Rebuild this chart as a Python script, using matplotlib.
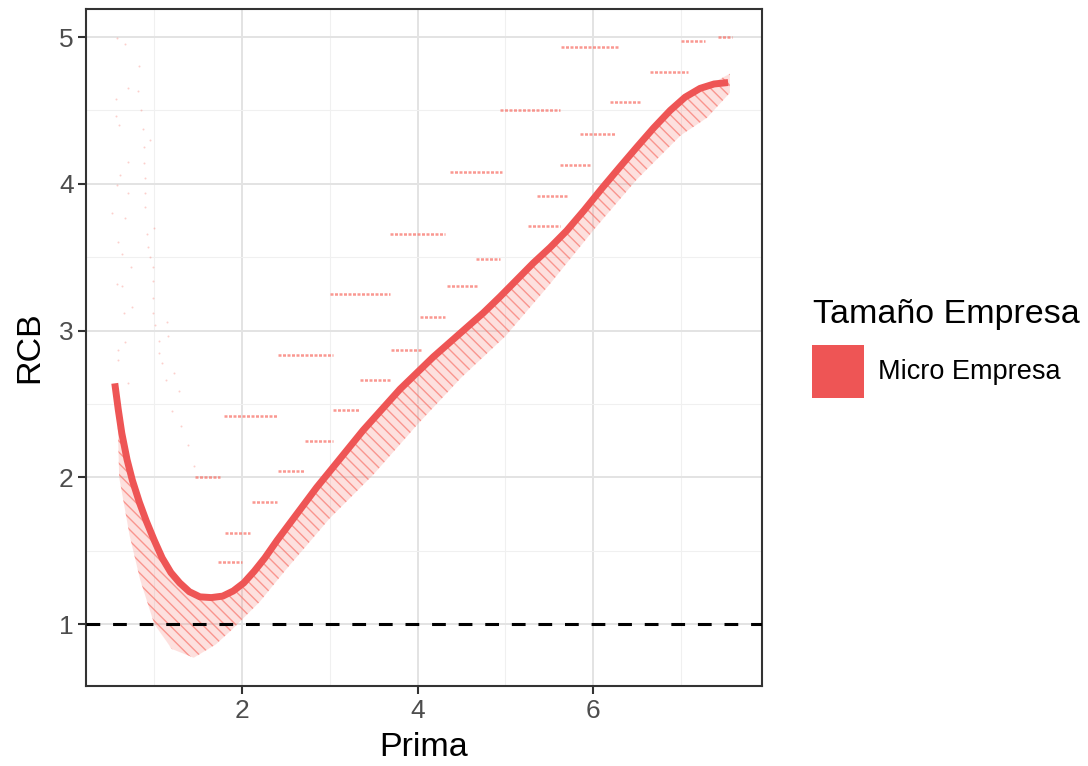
import matplotlib
matplotlib.use("Agg")
import matplotlib.pyplot as plt
from matplotlib.patches import Rectangle, Polygon

plt.rcParams['font.family'] = ['Liberation Sans', 'DejaVu Sans']

# ---- data ----
# loess-like smooth curve (Prima, RCB)
smooth_prima = [0.55, 0.59, 0.63, 0.69, 0.75, 0.83, 0.91, 1.00, 1.09, 1.19, 1.29, 1.40, 1.52,
                1.65, 1.78, 1.90, 2.02, 2.14, 2.26, 2.40, 2.55, 2.70, 2.85, 3.00, 3.19, 3.38,
                3.59, 3.80, 3.99, 4.18, 4.37, 4.56, 4.75, 4.94, 5.13, 5.32, 5.51, 5.70, 5.90,
                6.11, 6.30, 6.50, 6.69, 6.88, 7.05, 7.22, 7.38, 7.54]
smooth_rcb = [2.64, 2.46, 2.30, 2.12, 1.98, 1.83, 1.70, 1.57, 1.45, 1.35, 1.28, 1.22, 1.185,
              1.18, 1.19, 1.225, 1.28, 1.36, 1.45, 1.57, 1.69, 1.81, 1.93, 2.04, 2.18, 2.32,
              2.46, 2.60, 2.71, 2.82, 2.92, 3.02, 3.12, 3.23, 3.345, 3.46, 3.565, 3.68, 3.82,
              3.975, 4.11, 4.25, 4.38, 4.50, 4.59, 4.65, 4.68, 4.69]

# dense point cloud under the curve: outline (upper edge then lower edge)
cloud_upper_prima = [0.58, 0.63, 0.75, 0.91, 1.09, 1.29, 1.52, 1.78, 2.00, 2.30, 2.66, 3.00, 3.38,
                     3.80, 4.18, 4.56, 4.94, 5.32, 5.70, 6.11, 6.50, 6.88, 7.22, 7.56]
cloud_upper_rcb = [2.45, 2.26, 1.94, 1.67, 1.42, 1.26, 1.17, 1.18, 1.26, 1.47, 1.76, 2.02, 2.30,
                   2.58, 2.80, 3.00, 3.21, 3.44, 3.66, 3.96, 4.23, 4.48, 4.64, 4.75]
cloud_lower_prima = [7.56, 7.30, 7.00, 6.50, 6.00, 5.50, 5.00, 4.50, 4.00, 3.50, 3.00, 2.50,
                     2.20, 1.90, 1.70, 1.45, 1.20, 1.00, 0.84, 0.72, 0.60]
cloud_lower_rcb = [4.62, 4.45, 4.33, 4.03, 3.68, 3.31, 2.96, 2.68, 2.36, 2.02, 1.72, 1.37,
                   1.15, 0.97, 0.86, 0.77, 0.83, 1.00, 1.30, 1.60, 2.00]

# horizontal runs of points above the curve
run_start = [7.00, 7.42, 5.64, 6.65, 6.19, 5.85, 4.94, 5.62, 4.37, 5.36, 5.26, 3.69, 4.67, 3.00,
             4.34, 4.03, 2.41, 3.70, 3.34, 3.04, 1.79, 2.72, 2.41, 1.46, 2.11, 1.81, 1.73]
run_end = [7.28, 7.58, 6.28, 7.08, 6.54, 6.25, 5.62, 5.97, 4.96, 5.71, 5.62, 4.31, 4.94, 3.69,
           4.68, 4.31, 3.04, 4.04, 3.69, 3.34, 2.41, 3.04, 2.72, 1.75, 2.40, 2.09, 2.00]
run_rcb = [4.97, 5.00, 4.93, 4.76, 4.56, 4.34, 4.50, 4.13, 4.08, 3.92, 3.71, 3.66, 3.49, 3.25,
           3.30, 3.09, 2.83, 2.87, 2.66, 2.46, 2.42, 2.25, 2.04, 2.00, 1.83, 1.62, 1.42]

# faint scattered points on the left
faint_prima = [0.58, 0.67, 0.70, 0.81, 0.56, 0.56, 0.60, 0.87, 0.88, 0.70, 0.88, 0.61, 0.58, 0.90,
               0.70, 0.90, 0.90, 0.67, 0.52, 0.92, 0.59, 0.63, 0.93, 0.95, 0.73, 0.98, 0.58, 0.63,
               0.98, 0.99, 0.75, 0.65, 0.99, 1.15, 1.01, 0.67, 0.59, 1.05, 1.16, 1.05, 0.59, 0.70,
               1.09, 1.23, 1.13, 1.28, 1.20, 1.30, 1.38, 1.45, 0.83, 0.85, 0.95, 1.00]
faint_rcb = [4.99, 4.95, 4.65, 4.63, 4.58, 4.46, 4.40, 4.37, 4.25, 4.15, 4.14, 4.06, 3.99, 4.04,
             3.94, 3.94, 3.84, 3.77, 3.80, 3.66, 3.60, 3.52, 3.57, 3.50, 3.43, 3.43, 3.32, 3.30,
             3.34, 3.22, 3.16, 3.12, 3.12, 3.06, 3.04, 2.92, 2.87, 2.93, 2.96, 2.85, 2.80, 2.64,
             2.78, 2.71, 2.66, 2.59, 2.45, 2.35, 2.22, 2.08, 4.80, 4.50, 4.30, 3.70]

# ---- figure ----
W, H = 1088, 766
fig = plt.figure(figsize=(W / 100, H / 100), dpi=100)
ax = fig.add_axes([86 / W, 1 - 686 / H, (762 - 86) / W, (686 - 9) / H])

red = '#F8766D'
line_red = '#EE5555'

ax.set_xlim(0.222, 7.926)
ax.set_ylim(0.5775, 5.191)

ax.set_xticks([2, 4, 6])
ax.set_xticks([1, 3, 5, 7], minor=True)
ax.set_yticks([1, 2, 3, 4, 5])
ax.set_yticks([1.5, 2.5, 3.5, 4.5], minor=True)
ax.grid(True, which='major', color='#E3E3E3', linewidth=1.4, zorder=0)
ax.grid(True, which='minor', color='#F0F0F0', linewidth=0.8, zorder=0)
ax.set_axisbelow(True)
ax.tick_params(which='minor', length=0)
ax.tick_params(which='major', length=6, width=1.5, color='#333333', labelsize=19,
               labelcolor='#4D4D4D', pad=3)
for s in ax.spines.values():
    s.set_color('#333333')
    s.set_linewidth(1.5)

# point cloud below the curve
poly_x = cloud_upper_prima + cloud_lower_prima
poly_y = cloud_upper_rcb + cloud_lower_rcb
pts = list(zip(poly_x, poly_y))
ax.add_patch(Polygon(pts, closed=True, facecolor=red, alpha=0.22, edgecolor='none', zorder=2))
ax.add_patch(Polygon(pts, closed=True, facecolor='none', edgecolor=red, alpha=0.7,
                     hatch='\\\\\\', linewidth=0, zorder=2))

# faint points
ax.scatter(faint_prima, faint_rcb, s=2, color=red, alpha=0.35, linewidths=0, zorder=2)

# horizontal runs of points
ax.hlines(run_rcb, run_start, run_end, colors=red, linewidth=1.8, alpha=0.75,
          linestyles=(0, (1.2, 0.6)), zorder=3)

# smooth curve
ax.plot(smooth_prima, smooth_rcb, color=line_red, linewidth=5, solid_capstyle='butt',
        solid_joinstyle='round', zorder=4)

# reference line at RCB = 1
ax.axhline(1, color='black', linewidth=2.2, linestyle=(0, (4.5, 4.2)), zorder=5)

ax.set_xlabel('Prima', fontsize=24.5, color='black', labelpad=7)
ax.set_ylabel('RCB', fontsize=24.5, color='black', labelpad=10)

# legend
fig.text(813 / W, 1 - 323 / H, 'Tamaño Empresa', fontsize=24.5, color='black', va='baseline')
fig.add_artist(Rectangle((812 / W, 1 - 398 / H), 52 / W, 53 / H, transform=fig.transFigure,
                         facecolor=line_red, edgecolor='none'))
fig.text(878 / W, 1 - 372 / H, 'Micro Empresa', fontsize=19.5, color='black', va='center')

fig.savefig('out.png', dpi=100)
